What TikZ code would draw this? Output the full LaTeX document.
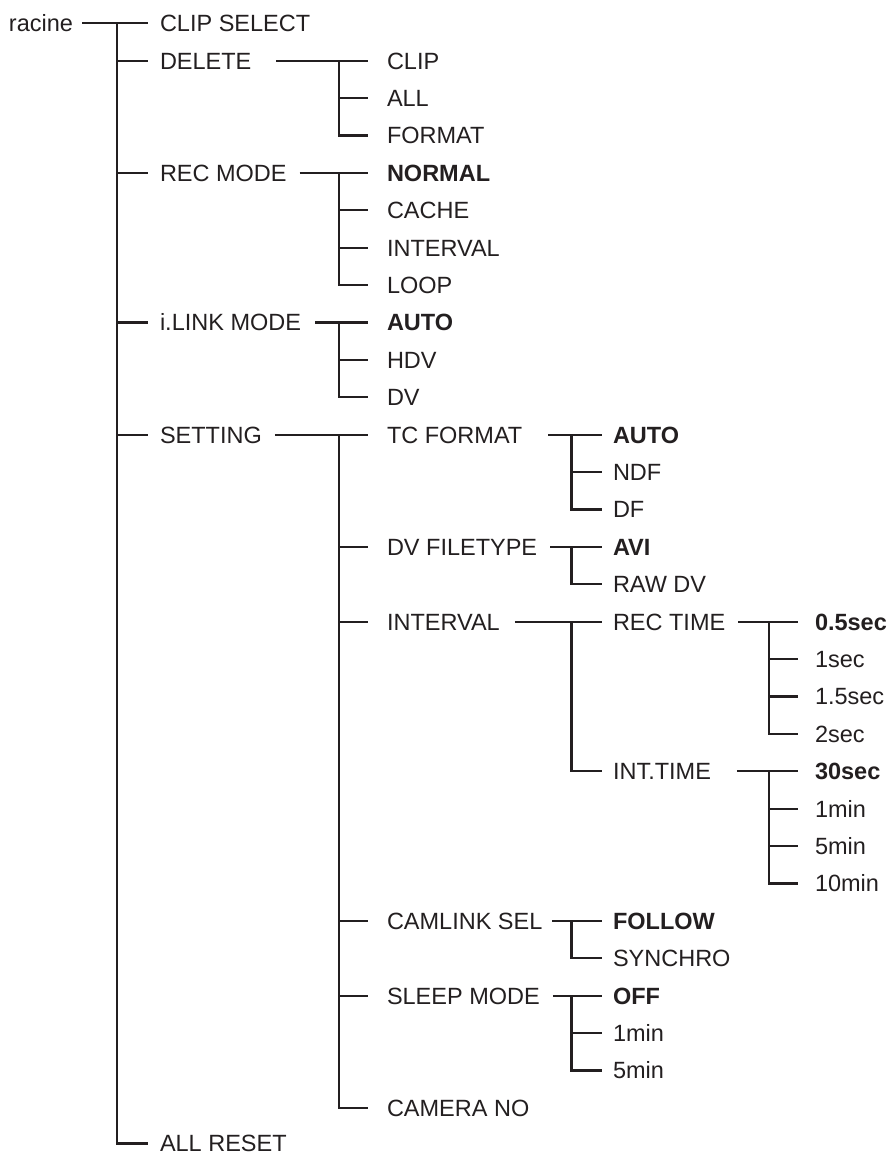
\documentclass[tikz,border=0pt]{standalone}
\usepackage{fontspec}
\setmainfont{Liberation Sans}
\definecolor{ink}{RGB}{35,31,32}
\newcommand\mytree[6]{%
  \draw[link] ([xshift=#2]#1.east) -- ([xshift=-#4]#5.west);
  \foreach \c in {#6} {\draw[link] (#3 |- #5.west) -- (#3 |- \c.west) -- ([xshift=-#4]\c.west);}%
}
\begin{document}
\begin{tikzpicture}[x=1pt,y=-1pt,
  item/.style={anchor=west, inner sep=0pt, outer sep=0pt, text height=16.8pt, text depth=0pt, text=ink, font=\fontsize{23.5}{28}\selectfont},
  sel/.style={item, font=\fontsize{23.5}{28}\selectfont\bfseries},
  link/.style={draw=ink, line width=2.3pt, line cap=butt, line join=miter}]
\useasboundingbox (0,0) rectangle (892,1153);
\def\ry#1{{23.3+37.4*#1}}
% column coordinates for verticals
\coordinate (v0) at (117,0);
\coordinate (v1) at (339,0);
\coordinate (v2) at (571.5,0);
\coordinate (v3) at (769,0);
% root
\node[item] (racine) at (9,\ry{0}) {racine};
% level 1
\node[item] (clipsel) at (160,\ry{0}) {CLIP SELECT};
\node[item] (delete) at (160,\ry{1}) {DELETE};
\node[item] (recmode) at (160,\ry{4}) {REC MODE};
\node[item] (ilink) at (160,\ry{8}) {i.LINK MODE};
\node[item] (setting) at (160,\ry{11}) {SETTING};
\node[item] (allreset) at (160,1143.5) {ALL RESET};
% level 2
\node[item] (clip) at (387,\ry{1}) {CLIP};
\node[item] (all) at (387,\ry{2}) {ALL};
\node[item] (format) at (387,\ry{3}) {FORMAT};
\node[sel] (normal) at (387,\ry{4}) {NORMAL};
\node[item] (cache) at (387,\ry{5}) {CACHE};
\node[item] (intv) at (387,\ry{6}) {INTERVAL};
\node[item] (loop) at (387,\ry{7}) {LOOP};
\node[sel] (lauto) at (387,\ry{8}) {AUTO};
\node[item] (hdv) at (387,\ry{9}) {HDV};
\node[item] (dv) at (387,\ry{10}) {DV};
\node[item] (tcformat) at (387,\ry{11}) {TC FORMAT};
\node[item] (dvfile) at (387,\ry{14}) {DV FILETYPE};
\node[item] (interval) at (387,\ry{16}) {INTERVAL};
\node[item] (camlink) at (387,\ry{24}) {CAMLINK SEL};
\node[item] (sleep) at (387,\ry{26}) {SLEEP MODE};
\node[item] (camno) at (387,\ry{29}) {CAMERA NO};
% level 3
\node[sel] (tcauto) at (613,\ry{11}) {AUTO};
\node[item] (ndf) at (613,\ry{12}) {NDF};
\node[item] (df) at (613,\ry{13}) {DF};
\node[sel] (avi) at (613,\ry{14}) {AVI};
\node[item] (rawdv) at (613,\ry{15}) {RAW DV};
\node[item] (rectime) at (613,\ry{16}) {REC TIME};
\node[item] (inttime) at (613,\ry{20}) {INT.TIME};
\node[sel] (follow) at (613,\ry{24}) {FOLLOW};
\node[item] (synchro) at (613,\ry{25}) {SYNCHRO};
\node[sel] (off) at (613,\ry{26}) {OFF};
\node[item] (slone) at (613,\ry{27}) {1min};
\node[item] (slfive) at (613,\ry{28}) {5min};
% level 4
\node[sel] (shalf) at (815,\ry{16}) {0.5sec};
\node[item] (sone) at (815,\ry{17}) {1sec};
\node[item] (sonehalf) at (815,\ry{18}) {1.5sec};
\node[item] (stwo) at (815,\ry{19}) {2sec};
\node[sel] (sthirty) at (815,\ry{20}) {30sec};
\node[item] (mone) at (815,\ry{21}) {1min};
\node[item] (mfive) at (815,\ry{22}) {5min};
\node[item] (mten) at (815,\ry{23}) {10min};
% connectors
\mytree{racine}{9pt}{v0}{12pt}{clipsel}{delete,recmode,ilink,setting,allreset}
\mytree{delete}{25pt}{v1}{19pt}{clip}{all,format}
\mytree{recmode}{13pt}{v1}{19pt}{normal}{cache,intv,loop}
\mytree{ilink}{14pt}{v1}{19pt}{lauto}{hdv,dv}
\mytree{setting}{13pt}{v1}{19pt}{tcformat}{dvfile,interval,camlink,sleep,camno}
\mytree{tcformat}{26pt}{v2}{11pt}{tcauto}{ndf,df}
\mytree{dvfile}{13pt}{v2}{11pt}{avi}{rawdv}
\mytree{interval}{15pt}{v2}{11pt}{rectime}{inttime}
\mytree{camlink}{10pt}{v2}{11pt}{follow}{synchro}
\mytree{sleep}{13pt}{v2}{11pt}{off}{slone,slfive}
\mytree{rectime}{13pt}{v3}{17pt}{shalf}{sone,sonehalf,stwo}
\mytree{inttime}{26pt}{v3}{17pt}{sthirty}{mone,mfive,mten}
\end{tikzpicture}
\end{document}
